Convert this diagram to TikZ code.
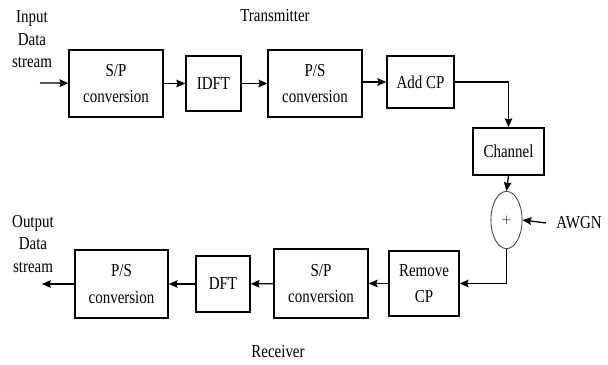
\documentclass[tikz,border=0pt]{standalone}
\usepackage{fontspec}
\setmainfont[FakeStretch=0.82]{Liberation Serif}
\usepackage{tikz}
\usetikzlibrary{arrows.meta,positioning,calc,shapes.geometric}
\tikzset{
  >={Stealth[length=2.2mm,width=1.9mm,inset=0.3mm]},
  % block
  blk/.style={draw=black,line width=1pt,fill=white,align=center,inner sep=0pt,
              font=\fontsize{13}{19}\selectfont},
  sumn/.style={ellipse,draw=black!75,line width=0.6pt,inner sep=0pt,
               minimum width=0.78cm,minimum height=1.43cm,font=\small},
  lbl/.style={align=center,inner sep=0pt,font=\fontsize{13}{16}\selectfont},
  sig/.style={->,draw=black,line width=0.9pt},
}
\begin{document}
\begin{tikzpicture}[x=0.025cm,y=-0.025cm]
  \useasboundingbox (0,0) rectangle (608,365);
  % sender
  \node[blk,minimum width=2.35cm,minimum height=1.68cm] (sp1) at (116,83.5) {S/P\\conversion};
  \node[blk,minimum width=1.38cm,minimum height=1.38cm] (idft) at (213.5,83.5) {IDFT};
  \node[blk,minimum width=2.35cm,minimum height=1.68cm] (ps1) at (315,83.5) {P/S\\conversion};
  \node[blk,minimum width=1.68cm,minimum height=1.3cm] (addcp) at (420.5,82) {Add CP};
  \node[blk,minimum width=1.78cm,minimum height=1.18cm] (chan) at (508.5,151.5) {Channel};
  \node[sumn] (sum) at (506.5,220) {$+$};
  % receiver
  \node[blk,minimum width=1.75cm,minimum height=1.63cm] (rmcp) at (424,283.5) {Remove\\CP};
  \node[blk,minimum width=2.35cm,minimum height=1.73cm] (sp2) at (321,283.5) {S/P\\conversion};
  \node[blk,minimum width=1.35cm,minimum height=1.4cm] (dft) at (223,284) {DFT};
  \node[blk,minimum width=2.33cm,minimum height=1.7cm] (ps2) at (121.5,284) {P/S\\conversion};
  % labels
  \node[lbl] (inp) at (32,39.5) {Input\\Data\\stream};
  \node[lbl] (outp) at (33,244) {Output\\Data\\stream};
  \node[lbl] (tx) at (275,16) {Transmitter};
  \node[lbl] (rx) at (278,352) {Receiver};
  \node[lbl,anchor=west] (awgn) at (556,223) {AWGN};
  \coordinate (inpend) at (40,83);
  \coordinate (outend) at (42,284);
  % signal path
  \draw[sig] (inpend) -- (sp1);
  \draw[sig] (sp1) -- (idft);
  \draw[sig] (idft) -- (ps1);
  \draw[sig] (ps1.east |- addcp) -- (addcp);
  \draw[sig] (addcp.east) -| (chan.north);
  \draw[sig] (chan.south) -- (sum.north);
  \draw[sig] ($(awgn.west)+(-10,0)$) -- (sum.east);
  \draw[sig] (sum.south) |- (rmcp.east);
  \draw[sig] (rmcp) -- (sp2);
  \draw[sig] (sp2) -- (dft);
  \draw[sig] (dft) -- (ps2);
  \draw[sig] (ps2) -- (outend);
\end{tikzpicture}
\end{document}
